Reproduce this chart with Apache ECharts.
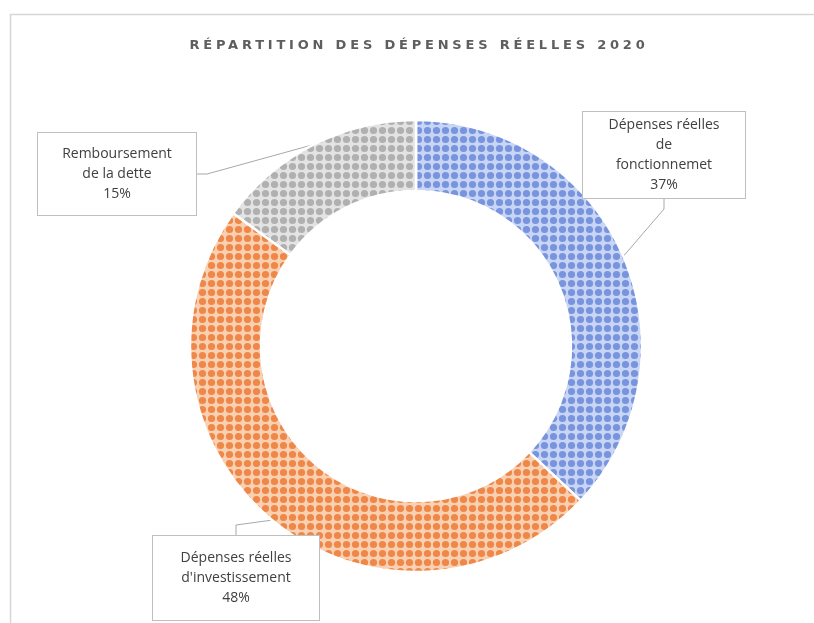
<!DOCTYPE html>
<html>
<head>
<meta charset="utf-8">
<script src="https://cdn.jsdelivr.net/npm/echarts@6/dist/echarts.min.js"></script>
<style>
  html, body { margin: 0; padding: 0; background: #fff; }
  #wrap { position: relative; width: 814px; height: 623px; overflow: hidden; }
  #chart { position: absolute; left: 0; top: 0; width: 814px; height: 623px; }
  #title {
    position: absolute; left: 8px; top: 37px; width: 822px; text-align: center;
    font-family: "DejaVu Sans", sans-serif; font-weight: bold; font-size: 13px;
    letter-spacing: 3.8px; color: #5e5e5e; pointer-events: none;
  }
</style>
</head>
<body>
<div id="wrap">
  <div id="chart"></div>
  <div id="title">RÉPARTITION DES DÉPENSES RÉELLES 2020</div>
</div>
<script>
// Slice names (with the line breaks used in the callouts) and their shares in %
const categories = [
  "Dépenses réelles\nde\nfonctionnemet",
  "Dépenses réelles\nd'investissement",
  "Remboursement\nde la dette"
];
const shares = [37, 48, 15];

// Two-tone dotted fills for each slice: [dark dot colour, light grid colour]
const fillTones = [
  ["#7894de", "#c9d5f4"],
  ["#ef8748", "#fad0b2"],
  ["#b0b0b0", "#e3e3e3"]
];

// Callout box placement: centre x, centre y, inner width, vertical padding
const callouts = [
  { x: 664, y: 155, w: 146, pv: 3 },
  { x: 236, y: 578, w: 150, pv: 12 },
  { x: 117, y: 174, w: 142, pv: 11 }
];

function dottedPattern(dark, light) {
  const size = 9;
  const c = document.createElement("canvas");
  c.width = size; c.height = size;
  const g = c.getContext("2d");
  g.fillStyle = light;
  g.fillRect(0, 0, size, size);
  g.fillStyle = dark;
  g.beginPath();
  g.arc(size / 2, size / 2, 3.6, 0, Math.PI * 2);
  g.fill();
  return { image: c, repeat: "repeat" };
}

const pieData = categories.map((name, i) => ({
  name: name,
  value: shares[i],
  itemStyle: { color: dottedPattern(fillTones[i][0], fillTones[i][1]) },
  label: {
    width: callouts[i].w,
    padding: [callouts[i].pv, 8, callouts[i].pv, 8]
  }
}));

const chart = echarts.init(document.getElementById("chart"), null, { renderer: "canvas" });

chart.setOption({
  backgroundColor: "#ffffff",
  animation: false,
  graphic: [{
    type: "rect",
    shape: { x: 10.5, y: 14.5, width: 820, height: 640 },
    style: { fill: "none", stroke: "#d6d6d6", lineWidth: 1.5 },
    silent: true
  }],
  series: [{
    type: "pie",
    center: [416, 346],
    radius: [155, 226],
    startAngle: 90,
    clockwise: true,
    avoidLabelOverlap: false,
    itemStyle: { borderColor: "#ffffff", borderWidth: 2.5 },
    emphasis: { disabled: true },
    label: {
      show: true,
      position: "outside",
      formatter: "{b}\n{c}%",
      fontFamily: "Open Sans, sans-serif",
      fontSize: 14,
      lineHeight: 20,
      color: "#404040",
      align: "center",
      backgroundColor: "#ffffff",
      borderColor: "#bfbfbf",
      borderWidth: 1
    },
    labelLine: {
      show: true,
      length: 10,
      length2: 10,
      lineStyle: { color: "#a8a8a8", width: 1 }
    },
    labelLayout: function (p) {
      const c = callouts[p.dataIndex];
      return { x: c.x, y: c.y, align: "center", verticalAlign: "middle" };
    },
    data: pieData
  }]
});
</script>
</body>
</html>
